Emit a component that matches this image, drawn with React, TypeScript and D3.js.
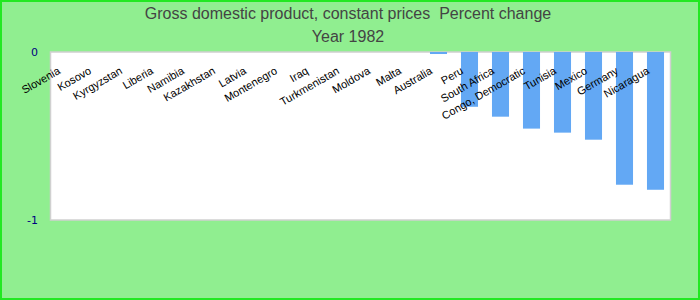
import React from "react";
import * as d3 from "d3";

const categories = [
  "Slovenia", "Kosovo", "Kyrgyzstan", "Liberia", "Namibia", "Kazakhstan", "Latvia",
  "Montenegro", "Iraq", "Turkmenistan", "Moldova", "Malta", "Australia", "Peru",
  "South Africa", "Congo, Democratic", "Tunisia", "Mexico", "Germany", "Nicaragua",
];
const values = [
  0, 0, 0, 0, 0, 0, 0, 0, 0, 0, 0, 0, -0.012, -0.326, -0.385, -0.456, -0.48, -0.522, -0.79, -0.82,
];
const yTicks = [0, -1];
const titleLines = ["Gross domestic product, constant prices  Percent change", "Year 1982"];

const W = 700;
const H = 300;
const plot = { left: 50.5, right: 670.5, top: 52, bottom: 220 };

export default function App() {
  const x = d3
    .scaleBand<string>()
    .domain(categories)
    .range([plot.left, plot.right])
    .paddingInner(0.45)
    .paddingOuter(0.225);
  const y = d3.scaleLinear().domain([-1, 0]).range([plot.bottom, plot.top]);

  return (
    <svg width={W} height={H} style={{ position: "absolute", left: 0, top: 0 }}>
      <rect x={1} y={1} width={W - 2} height={H - 2} fill="#90EE90" stroke="#22e822" strokeWidth={2} />
      <rect
        x={plot.left}
        y={plot.top}
        width={plot.right - plot.left}
        height={plot.bottom - plot.top}
        fill="#ffffff"
        stroke="#d0d0d0"
        strokeWidth={1.5}
      />
      {titleLines.map((t, i) => (
        <text
          key={t}
          x={348}
          y={19 + i * 23}
          textAnchor="middle"
          fontFamily="Liberation Sans, Arial, sans-serif"
          fontSize={16}
          fill="#444444"
          style={{ whiteSpace: "pre" }}
        >
          {t}
        </text>
      ))}
      {yTicks.map((t) => (
        <text
          key={t}
          x={38}
          y={y(t)}
          dy="0.35em"
          textAnchor="end"
          fontFamily="DejaVu Sans, sans-serif"
          fontSize={11}
          fill="#000080"
        >
          {t}
        </text>
      ))}
      {categories.map((c, i) => {
        const v = values[i];
        if (v === 0) return null;
        const y0 = y(0);
        const y1 = y(v);
        return (
          <rect
            key={c}
            x={(x(c) as number) + 0.5}
            y={Math.min(y0, y1)}
            width={x.bandwidth()}
            height={Math.abs(y1 - y0)}
            fill="#63A8F4"
          />
        );
      })}
      {categories.map((c) => {
        const cx = (x(c) as number) + x.bandwidth() / 2;
        const ax = cx - 5;
        const ay = 73;
        return (
          <text
            key={c}
            x={ax}
            y={ay}
            textAnchor="end"
            transform={`rotate(-30, ${ax}, ${ay})`}
            fontFamily="Liberation Sans, Arial, sans-serif"
            fontSize={11}
            fill="#000000"
          >
            {c}
          </text>
        );
      })}
    </svg>
  );
}
